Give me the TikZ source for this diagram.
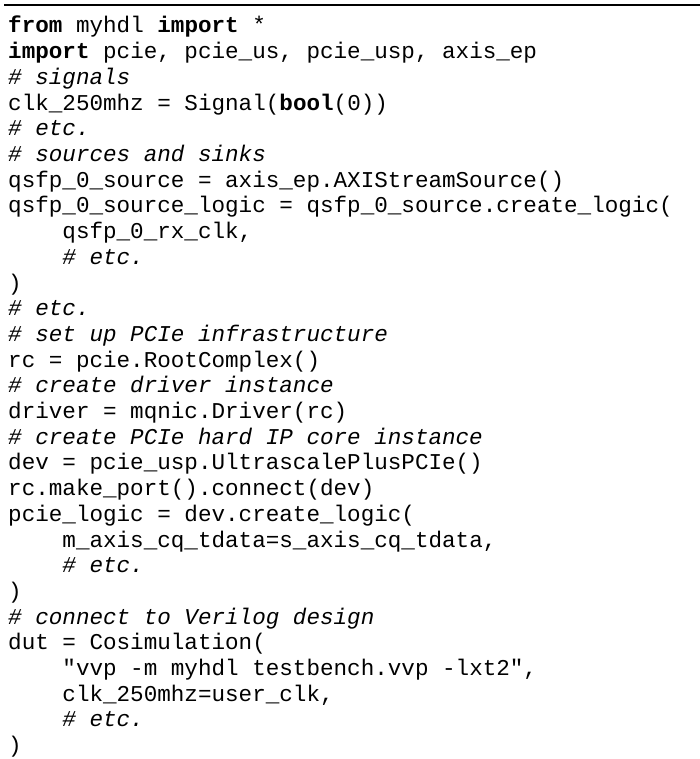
\documentclass[tikz,border=0pt]{standalone}
\usepackage{fontspec}
\setmonofont{Liberation Mono}
\begin{document}
\begin{tikzpicture}[x=1pt,y=-1pt,
  ln/.style={anchor=base west,inner sep=0pt,font=\ttfamily\fontsize{22.6}{25}\selectfont}]
\useasboundingbox (0,0) rectangle (700,759);
\draw[line width=1.8pt] (4,5) -- (700,5);
\newcommand\cm[1]{\itshape #1}
\node[ln] (l1) at (8,33.0+0*25.7) {\textbf{from} myhdl \textbf{import} *};
\node[ln] (l2) at (8,33.0+1*25.7) {\textbf{import} pcie, pcie\_us, pcie\_usp, axis\_ep};
\node[ln] (l3) at (8,33.0+2*25.7) {\textit{\# signals}};
\node[ln] (l4) at (8,33.0+3*25.7) {clk\_250mhz = Signal(\textbf{bool}(0))};
\node[ln] (l5) at (8,33.0+4*25.7) {\textit{\# etc.}};
\node[ln] (l6) at (8,33.0+5*25.7) {\textit{\# sources and sinks}};
\node[ln] (l7) at (8,33.0+6*25.7) {qsfp\_0\_source = axis\_ep.AXIStreamSource()};
\node[ln] (l8) at (8,33.0+7*25.7) {qsfp\_0\_source\_logic = qsfp\_0\_source.create\_logic(};
\node[ln] (l9) at (8,33.0+8*25.7) {\ \ \ \ qsfp\_0\_rx\_clk,};
\node[ln] (l10) at (8,33.0+9*25.7) {\ \ \ \ \textit{\# etc.}};
\node[ln] (l11) at (8,33.0+10*25.7) {)};
\node[ln] (l12) at (8,33.0+11*25.7) {\textit{\# etc.}};
\node[ln] (l13) at (8,33.0+12*25.7) {\textit{\# set up PCIe infrastructure}};
\node[ln] (l14) at (8,33.0+13*25.7) {rc = pcie.RootComplex()};
\node[ln] (l15) at (8,33.0+14*25.7) {\textit{\# create driver instance}};
\node[ln] (l16) at (8,33.0+15*25.7) {driver = mqnic.Driver(rc)};
\node[ln] (l17) at (8,33.0+16*25.7) {\textit{\# create PCIe hard IP core instance}};
\node[ln] (l18) at (8,33.0+17*25.7) {dev = pcie\_usp.UltrascalePlusPCIe()};
\node[ln] (l19) at (8,33.0+18*25.7) {rc.make\_port().connect(dev)};
\node[ln] (l20) at (8,33.0+19*25.7) {pcie\_logic = dev.create\_logic(};
\node[ln] (l21) at (8,33.0+20*25.7) {\ \ \ \ m\_axis\_cq\_tdata=s\_axis\_cq\_tdata,};
\node[ln] (l22) at (8,33.0+21*25.7) {\ \ \ \ \textit{\# etc.}};
\node[ln] (l23) at (8,33.0+22*25.7) {)};
\node[ln] (l24) at (8,33.0+23*25.7) {\textit{\# connect to Verilog design}};
\node[ln] (l25) at (8,33.0+24*25.7) {dut = Cosimulation(};
\node[ln] (l26) at (8,33.0+25*25.7) {\ \ \ \ "vvp -m myhdl testbench.vvp -lxt2",};
\node[ln] (l27) at (8,33.0+26*25.7) {\ \ \ \ clk\_250mhz=user\_clk,};
\node[ln] (l28) at (8,33.0+27*25.7) {\ \ \ \ \textit{\# etc.}};
\node[ln] (l29) at (8,33.0+28*25.7) {)};
\end{tikzpicture}
\end{document}
